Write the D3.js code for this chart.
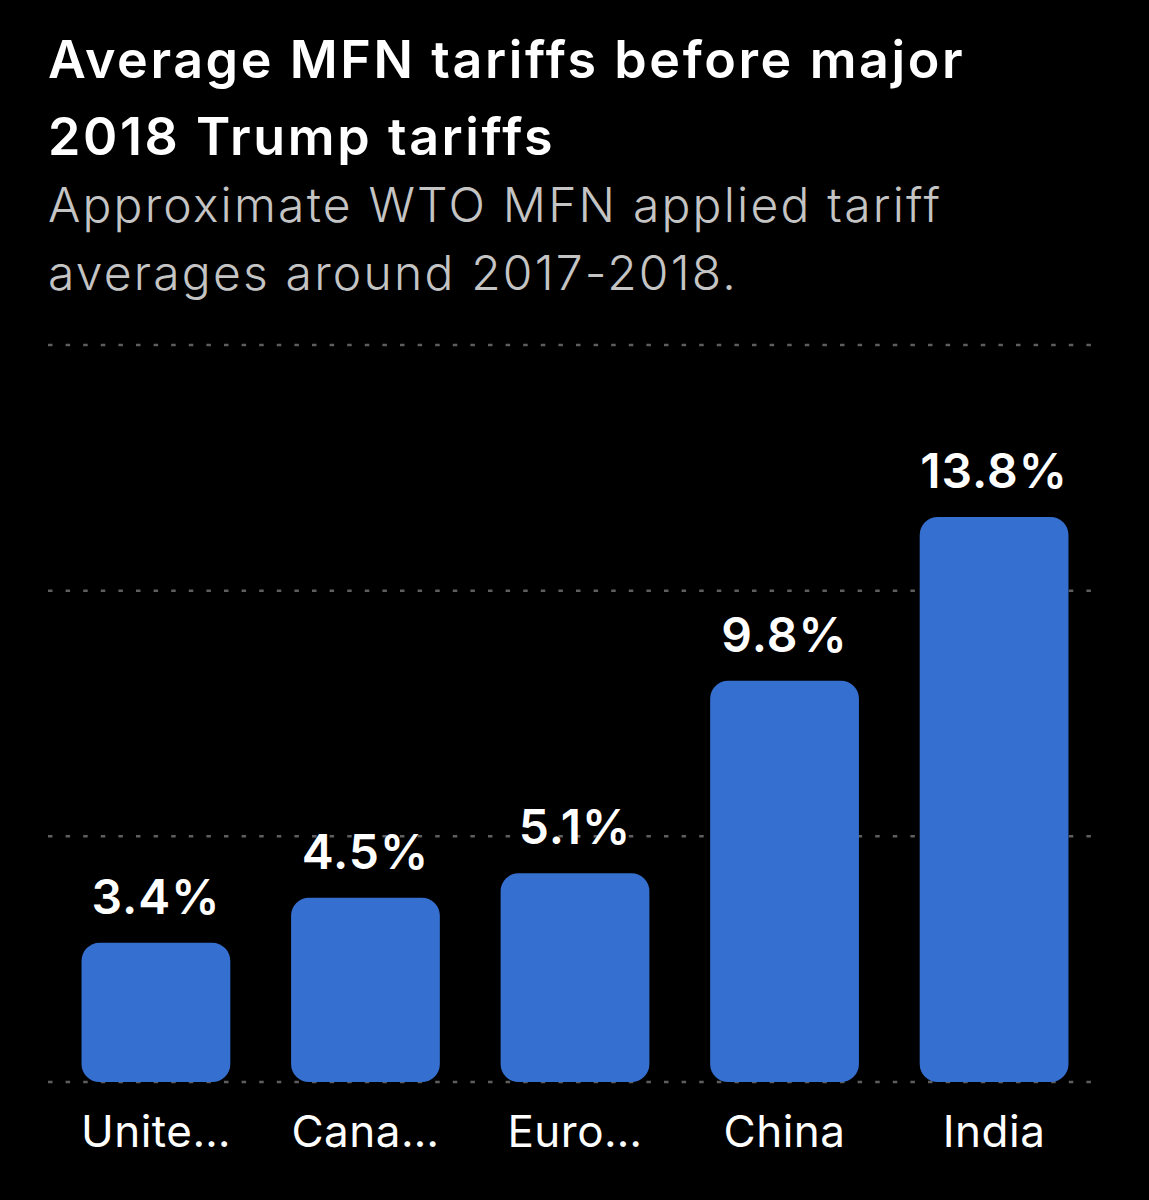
<!DOCTYPE html>
<html>
<head>
<meta charset="utf-8">
<script src="https://cdn.jsdelivr.net/npm/d3@7"></script>
<style>
  body { margin: 0; background: #000; }
  svg { display: block; }
  text { font-family: Inter, "Noto Sans", sans-serif; }
</style>
</head>
<body>
<svg width="1149" height="1200"></svg>
<script>
let categories = ['United States', 'Canada', 'European Union', 'China', 'India'];
let shownLabels = ['Unite…', 'Cana…', 'Euro…', 'China', 'India'];
let tariffs = [3.4, 4.5, 5.1, 9.8, 13.8];
let gridTicks = [0, 6, 12, 18];

let svg = d3.select('svg');

// title + subtitle
let titleLines = ['Average MFN tariffs before major', '2018 Trump tariffs'];
let subLines = ['Approximate WTO MFN applied tariff', 'averages around 2017-2018.'];

svg.selectAll('text.title')
  .data(titleLines)
  .join('text')
  .attr('class', 'title')
  .attr('x', 48).attr('y', (d, i) => 78 + i * 77)
  .style('font-size', '52px').style('font-weight', 600)
  .style('letter-spacing', '2.6px')
  .style('fill', '#fff')
  .text(d => d);

svg.selectAll('text.sub')
  .data(subLines)
  .join('text')
  .attr('class', 'sub')
  .attr('x', 48).attr('y', (d, i) => 222 + i * 68)
  .style('font-size', '48px').style('font-weight', 300)
  .style('letter-spacing', '2.2px')
  .style('fill', '#c4c4c4')
  .text(d => d);

let x = d3.scaleBand().domain(categories).range([48, 1102]).paddingInner(0.29).paddingOuter(0.16);
let y = d3.scaleLinear().domain([0, 18]).range([1082, 345]);

let chart = svg.append('g').attr('class', 'chart');

chart.selectAll('line.grid')
  .data(gridTicks)
  .join('line')
  .attr('class', 'grid')
  .attr('x1', 48).attr('x2', 1104)
  .attr('y1', d => y(d)).attr('y2', d => y(d))
  .style('stroke', '#5e5e5e')
  .style('stroke-width', 2.5)
  .style('stroke-dasharray', '4.5 13.1');

chart.selectAll('rect')
  .data(tariffs)
  .join('rect')
  .attr('x', (d, i) => x(categories[i]))
  .attr('y', d => y(d))
  .attr('width', x.bandwidth())
  .attr('height', d => y(0) - y(d))
  .attr('rx', 18)
  .style('fill', '#356fcf');

chart.selectAll('text.value')
  .data(tariffs)
  .join('text')
  .attr('class', 'value')
  .attr('x', (d, i) => x(categories[i]) + x.bandwidth() / 2)
  .attr('y', d => y(d) - 29)
  .attr('text-anchor', 'middle')
  .style('font-size', '48px').style('font-weight', 600)
  .style('letter-spacing', '1px')
  .style('fill', '#fff')
  .text(d => d + '%');

chart.selectAll('text.cat')
  .data(shownLabels)
  .join('text')
  .attr('class', 'cat')
  .attr('x', (d, i) => x(categories[i]) + x.bandwidth() / 2)
  .attr('y', 1147)
  .attr('text-anchor', 'middle')
  .style('font-size', '44px').style('font-weight', 400)
  .style('letter-spacing', '0.5px')
  .style('fill', '#fff')
  .text(d => d);
</script>
</body>
</html>
